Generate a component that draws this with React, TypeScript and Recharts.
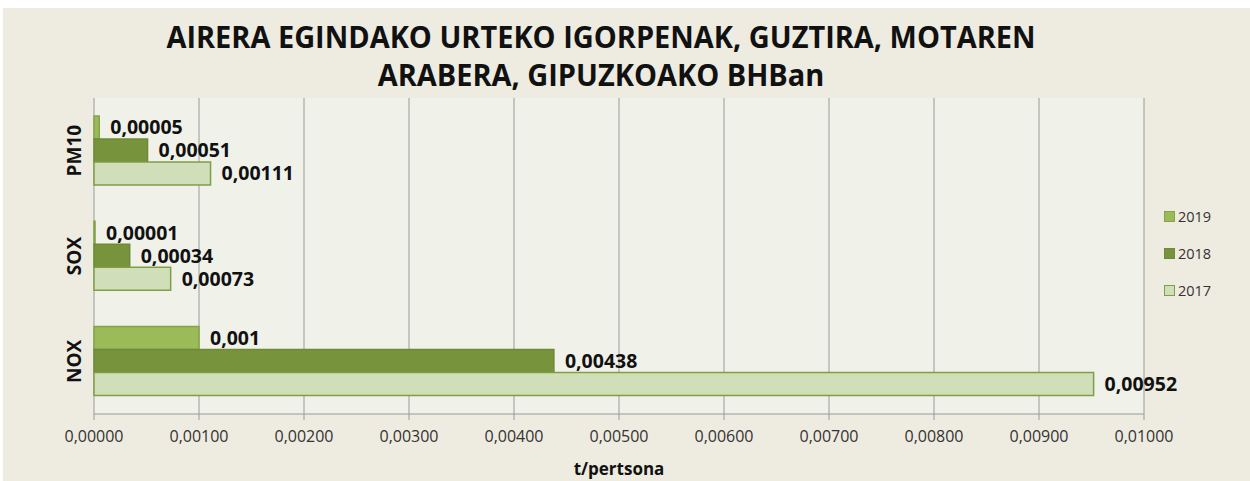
import { BarChart, Bar, XAxis, YAxis, CartesianGrid, LabelList } from "recharts";

const categories = ["PM10", "SOX", "NOX"];
const values2019 = [0.00005, 0.00001, 0.001];
const values2018 = [0.00051, 0.00034, 0.00438];
const values2017 = [0.00111, 0.00073, 0.00952];
const xTicks = [0, 0.001, 0.002, 0.003, 0.004, 0.005, 0.006, 0.007, 0.008, 0.009, 0.01];
const seriesNames = ["2019", "2018", "2017"];
const seriesKeys = ["y2019", "y2018", "y2017"];
const fills = ["#9BBB59", "#77933C", "#D0DEBA"];
const strokes = ["#85A44A", "#6E8A36", "#7F9F45"];

const data = categories.map((name, i) => ({
  name,
  y2019: values2019[i],
  y2018: values2018[i],
  y2017: values2017[i],
}));

const FONT = "'Open Sans', sans-serif";

const fmtTick = (v: number) => v.toFixed(5).replace(".", ",");
const fmtLabel = (v: number) => String(v).replace(".", ",");

// category names are drawn turned upright along the axis
const CatTick = (props: any) => {
  const { x, y, payload } = props;
  return (
    <text
      x={x}
      y={y}
      transform={`rotate(-90 ${x} ${y})`}
      textAnchor="middle"
      fontFamily={FONT}
      fontWeight={700}
      fontSize={19}
      fill="#111"
    >
      {payload.value}
    </text>
  );
};

export default function App() {
  return (
    <div
      style={{
        position: "absolute",
        left: 3,
        top: 8,
        width: 1247,
        height: 473,
        background: "#EEEBE0",
      }}
    >
      {/* title */}
      <div
        style={{
          position: "absolute",
          left: 0,
          top: 10,
          width: 1196,
          textAlign: "center",
          fontFamily: FONT,
          fontWeight: 700,
          fontSize: 30,
          lineHeight: "38px",
          color: "#111",
          transform: "scaleX(0.965)",
          transformOrigin: "598px 0",
        }}
      >
        AIRERA EGINDAKO URTEKO IGORPENAK, GUZTIRA, MOTAREN
        <br />
        ARABERA, GIPUZKOAKO BHBan
      </div>

      <BarChart
        width={1247}
        height={473}
        data={data}
        layout="vertical"
        margin={{ top: 90, right: 106, bottom: 0, left: 0 }}
        barCategoryGap="17%"
        barGap={0}
      >
        <CartesianGrid horizontal={false} stroke="#9A9A9A" fill="#F0F2EA" />
        <XAxis
          type="number"
          domain={[0, 0.01]}
          ticks={xTicks}
          tickFormatter={fmtTick}
          height={67}
          tickSize={6}
          tickMargin={11}
          stroke="#9A9A9A"
          tick={{ fill: "#333", fontSize: 16, fontFamily: FONT }}
          label={{
            value: "t/pertsona",
            position: "insideBottom",
            offset: 6,
            style: { fontFamily: FONT, fontWeight: 700, fontSize: 17, fill: "#111" },
          }}
        />
        <YAxis
          type="category"
          dataKey="name"
          width={91}
          axisLine={false}
          tickLine={false}
          tickSize={0}
          tickMargin={13}
          tick={<CatTick />}
        />
        {seriesKeys.map((k, i) => (
          <Bar
            key={k}
            dataKey={k}
            name={seriesNames[i]}
            fill={fills[i]}
            stroke={strokes[i]}
            strokeWidth={1.5}
            isAnimationActive={false}
          >
            <LabelList
              dataKey={k}
              position="right"
              offset={11}
              formatter={(v: any) => fmtLabel(Number(v))}
              style={{ fontFamily: FONT, fontWeight: 700, fontSize: 19.5, fill: "#111" }}
            />
          </Bar>
        ))}
      </BarChart>

      {/* legend */}
      <div style={{ position: "absolute", left: 1161, top: 190 }}>
        {seriesNames.map((s, i) => (
          <div
            key={s}
            style={{
              display: "flex",
              alignItems: "center",
              height: 37,
              fontFamily: FONT,
              fontSize: 14.5,
              color: "#333",
            }}
          >
            <span
              style={{
                display: "inline-block",
                width: 9,
                height: 9,
                background: fills[i],
                border: `1px solid ${strokes[i]}`,
                marginRight: 3,
              }}
            />
            {s}
          </div>
        ))}
      </div>
    </div>
  );
}
